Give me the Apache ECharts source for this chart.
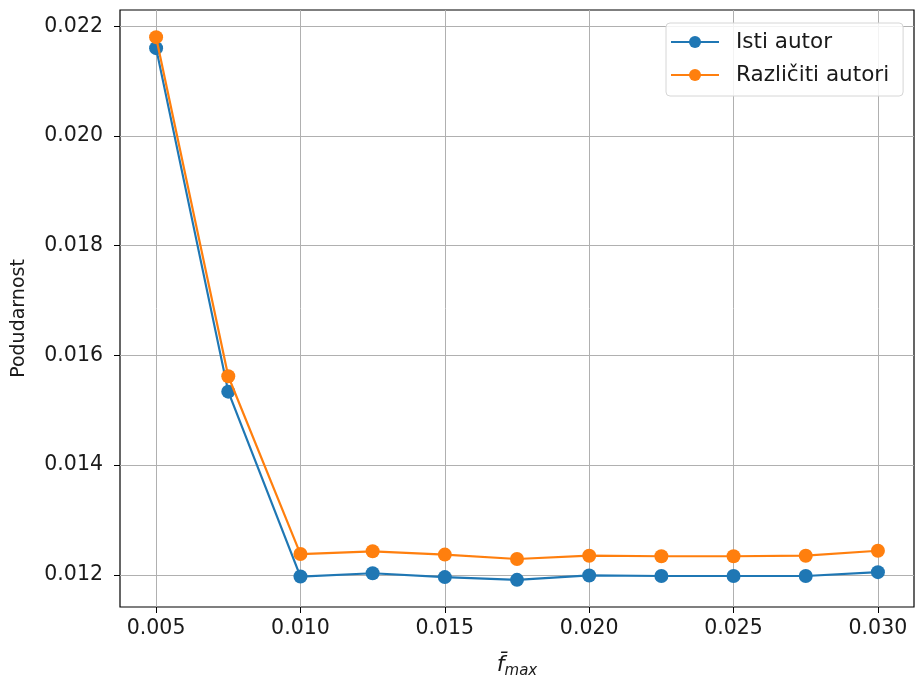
<!DOCTYPE html>
<html>
<head>
<meta charset="utf-8">
<script src="https://cdn.jsdelivr.net/npm/echarts@6/dist/echarts.min.js"></script>
<style>
  html, body { margin: 0; padding: 0; background: #fff; }
  #chart { width: 915px; height: 679px; }
</style>
</head>
<body>
<div id="chart"></div>
<script>
// f_max thresholds
const fMax = [0.005, 0.0075, 0.010, 0.0125, 0.015, 0.0175, 0.020, 0.0225, 0.025, 0.0275, 0.030];
// similarity, same author
const istiAutor = [0.02160, 0.01534, 0.01197, 0.01203, 0.01196, 0.01191, 0.01199, 0.01198, 0.01198, 0.01198, 0.01205];
// similarity, different authors
const razlicitiAutori = [0.02180, 0.01562, 0.01238, 0.01243, 0.01237, 0.01229, 0.01235, 0.01234, 0.01234, 0.01235, 0.01244];
// tick labels
const xTicks = [0.005, 0.010, 0.015, 0.020, 0.025, 0.030];
const yTicks = [0.012, 0.014, 0.016, 0.018, 0.020, 0.022];

const FONT = 'DejaVu Sans';
const TEXT = '#1a1a1a';
const chart = echarts.init(document.getElementById('chart'), null, { renderer: 'canvas' });

const pairs = arr => fMax.map((x, i) => [x, arr[i]]);

chart.setOption({
  animation: false,
  backgroundColor: '#fff',
  textStyle: { fontFamily: FONT },
  grid: {
    left: 120, right: 1, top: 10, bottom: 72,
    outerBoundsMode: 'none', containLabel: false,
    show: true, borderColor: '#000', borderWidth: 1.2, backgroundColor: 'transparent'
  },
  legend: {
    left: 666, top: 23,
    orient: 'vertical',
    itemWidth: 48, itemHeight: 15, itemGap: 11,
    padding: [8, 14, 10, 4],
    borderColor: '#d6d6d6', borderWidth: 1, borderRadius: 4,
    backgroundColor: 'rgba(255,255,255,0.85)',
    textStyle: { fontFamily: FONT, fontSize: 21.5, color: TEXT, padding: [0, 0, 0, 12] },
    data: ['Isti autor', 'Različiti autori']
  },
  xAxis: {
    type: 'value',
    min: 0.00375, max: 0.03125,
    name: '{f|f\u0304}{s|max}',
    nameLocation: 'middle', nameGap: 45,
    nameTextStyle: {
      rich: {
        f: { fontFamily: FONT, fontStyle: 'italic', fontSize: 22, color: TEXT },
        s: { fontFamily: FONT, fontStyle: 'italic', fontSize: 15, color: TEXT, padding: [12, 0, 0, 0] }
      }
    },
    axisLine: { show: false },
    axisTick: { show: true, customValues: xTicks, length: 6, lineStyle: { color: '#000', width: 1 } },
    axisLabel: {
      customValues: xTicks, fontFamily: FONT, fontSize: 20.5, color: TEXT, margin: 11,
      formatter: v => v.toFixed(3)
    },
    splitLine: { show: true, lineStyle: { color: '#b0b0b0', width: 1 } }
  },
  yAxis: {
    type: 'value',
    min: 0.011415, max: 0.022295,
    name: 'Podudarnost',
    nameLocation: 'middle', nameGap: 91,
    nameTextStyle: { fontFamily: FONT, fontSize: 19, color: TEXT, padding: [0, 20, 0, 0] },
    axisLine: { show: false },
    axisTick: { show: true, customValues: yTicks, length: 6, lineStyle: { color: '#000', width: 1 } },
    axisLabel: {
      customValues: yTicks, fontFamily: FONT, fontSize: 20.5, color: TEXT, margin: 17,
      formatter: v => v.toFixed(3)
    },
    splitLine: { show: true, lineStyle: { color: '#b0b0b0', width: 1 } }
  },
  series: [
    {
      name: 'Isti autor', type: 'line', data: pairs(istiAutor),
      color: '#1f77b4', symbol: 'circle', symbolSize: 14,
      lineStyle: { width: 2.2 }, z: 2
    },
    {
      name: 'Različiti autori', type: 'line', data: pairs(razlicitiAutori),
      color: '#ff7f0e', symbol: 'circle', symbolSize: 14,
      lineStyle: { width: 2.2 }, z: 3
    }
  ]
});
</script>
</body>
</html>
